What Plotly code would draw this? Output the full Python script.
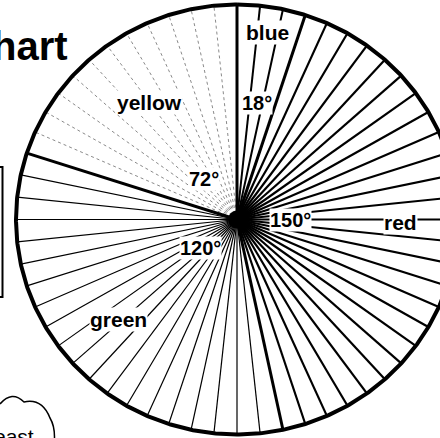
import numpy as np
import plotly.graph_objects as go

# Pie chart worksheet: colour names and the angle of each slice in degrees
categories = ["blue", "red", "green", "yellow"]
degrees = [18, 150, 120, 72]
hatch_step = 6  # a ruled line every 6 degrees inside each slice

# label placement: angle (clockwise from 12 o'clock) and fraction of radius
name_angle = [9, 91, 229, 324]
name_radius = [0.88, 0.74, 0.71, 0.67]
value_angle = [9.5, 90, 231, 322]
value_radius = [0.55, 0.24, 0.21, 0.24]

hatch_style = {
    "blue": dict(color="black", width=2),
    "red": dict(color="black", width=2.2),
    "green": dict(color="black", width=1.2),
    "yellow": dict(color="#8a8a8a", width=1, dash="3px,3px"),
}

W, H = 440, 438
# pie centre and radii in pixels (the drawing runs off the right edge)
CX, CY, RX, RY = 237, 219.5, 221, 215


def ray(theta_deg, r=1.0):
    """Point at angle theta (clockwise from 12 o'clock) and radius r."""
    t = np.radians(theta_deg)
    return r * np.sin(t), r * np.cos(t)


def px(x):
    return x / W


def py(y):
    return 1 - y / H


fig = go.Figure()

starts = np.concatenate([[0], np.cumsum(degrees)[:-1]])

# ruled hatch lines inside each slice
for cat, start, span in zip(categories, starts, degrees):
    xs, ys = [], []
    for a in np.arange(start + hatch_step, start + span, hatch_step):
        x, y = ray(a)
        xs += [0, x, None]
        ys += [0, y, None]
    fig.add_trace(go.Scatter(x=xs, y=ys, mode="lines", line=hatch_style[cat],
                             hoverinfo="skip"))

# slice boundaries
xs, ys = [], []
for a in starts:
    x, y = ray(a)
    xs += [0, x, None]
    ys += [0, y, None]
fig.add_trace(go.Scatter(x=xs, y=ys, mode="lines",
                         line=dict(color="black", width=3), hoverinfo="skip"))

# rim of the pie
th = np.linspace(0, 360, 721)
rx_, ry_ = ray(th)
fig.add_trace(go.Scatter(x=rx_, y=ry_, mode="lines",
                         line=dict(color="black", width=4), hoverinfo="skip"))

# dark hub where the rules meet
fig.add_trace(go.Scatter(x=[0], y=[0], mode="markers",
                         marker=dict(color="black", size=18), hoverinfo="skip"))

# slice names and angle labels
for cat, span, na, nr, va, vr in zip(categories, degrees, name_angle,
                                     name_radius, value_angle, value_radius):
    x, y = ray(na, nr)
    fig.add_annotation(x=x, y=y, text=f"<b>{cat}</b>", showarrow=False,
                       font=dict(family="Liberation Sans", size=21, color="black"),
                       bgcolor="white", borderpad=0)
    x, y = ray(va, vr)
    fig.add_annotation(x=x, y=y, text=f"<b>{span}°</b>", showarrow=False,
                       font=dict(family="Liberation Sans", size=20, color="black"),
                       bgcolor="white", borderpad=0)

# title fragment at the top left
fig.add_annotation(xref="paper", yref="paper", x=px(70), y=py(46),
                   xanchor="right", yanchor="middle", text="<b>hart</b>",
                   showarrow=False,
                   font=dict(family="Liberation Sans", size=40, color="black"))

# key box at the left edge
fig.add_shape(type="rect", xref="paper", yref="paper",
              x0=px(-20), x1=px(2.5), y0=py(297), y1=py(167),
              line=dict(color="black", width=2))

# speech cloud at the bottom left
cloud = (f"M {px(0)},{py(404)} "
         f"Q {px(12)},{py(390)} {px(24)},{py(402)} "
         f"Q {px(42)},{py(398)} {px(50)},{py(418)} "
         f"Q {px(56)},{py(428)} {px(54)},{py(445)}")
fig.add_shape(type="path", xref="paper", yref="paper", path=cloud,
              line=dict(color="black", width=1.5))
fig.add_annotation(xref="paper", yref="paper", x=px(36), y=py(423),
                   xanchor="right", yanchor="top", text="east",
                   showarrow=False,
                   font=dict(family="Liberation Sans", size=21, color="black"))

fig.update_xaxes(visible=False, range=[-CX / RX, (W - CX) / RX], fixedrange=True)
fig.update_yaxes(visible=False, range=[-(H - CY) / RY, CY / RY], fixedrange=True)
fig.update_layout(width=W, height=H, autosize=False,
                  margin=dict(l=0, r=0, t=0, b=0, pad=0),
                  paper_bgcolor="white", plot_bgcolor="white",
                  showlegend=False)

fig.write_html("out.html")
